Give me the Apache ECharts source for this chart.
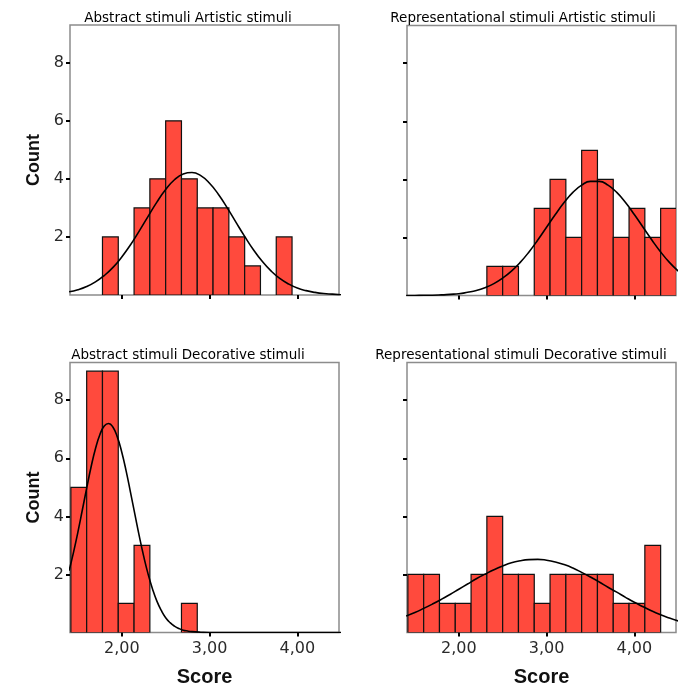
<!DOCTYPE html>
<html>
<head>
<meta charset="utf-8">
<script src="https://cdn.jsdelivr.net/npm/echarts@6/dist/echarts.min.js"></script>
<style>html,body{margin:0;padding:0;background:#fff;}#c{width:696px;height:690px;}</style>
</head>
<body>
<div id="c"></div>
<script>
// ---- data ----
const panelTitles = [
  'Abstract stimuli Artistic stimuli',
  'Representational stimuli Artistic stimuli',
  'Abstract stimuli Decorative stimuli',
  'Representational stimuli Decorative stimuli'
];
const binEdges = [1.42,1.60,1.78,1.96,2.14,2.32,2.50,2.68,2.86,3.04,3.22,3.40,3.58,3.76,3.94,4.12,4.30,4.48];
const countsAbsArt = [0,0,2,0,3,4,6,4,3,3,2,1,0,2,0,0,0];
const countsRepArt = [0,0,0,0,0,1,1,0,3,4,2,5,4,2,3,2,3];
const countsAbsDec = [5,9,9,1,3,0,0,1,0,0,0,0,0,0,0,0,0];
const countsRepDec = [2,2,1,1,2,4,2,2,1,2,2,2,2,1,1,3,0];
const curveX = [1.4,1.5,1.6,1.7,1.8,1.9,2.0,2.1,2.2,2.3,2.4,2.5,2.6,2.7,2.8,2.9,3.0,3.1,3.2,3.3,3.4,3.5,3.6,3.7,3.8,3.9,4.0,4.1,4.2,4.3,4.4,4.5];
const curveAbsArt = [0.11,0.18,0.29,0.45,0.67,0.95,1.31,1.73,2.21,2.71,3.20,3.63,3.97,4.17,4.22,4.11,3.85,3.47,3.01,2.51,2.02,1.56,1.16,0.83,0.57,0.38,0.24,0.15,0.09,0.05,0.03,0.01];
const curveRepArt = [0.00,0.00,0.01,0.01,0.02,0.04,0.06,0.11,0.17,0.27,0.41,0.60,0.84,1.14,1.50,1.91,2.35,2.79,3.20,3.55,3.80,3.93,3.93,3.80,3.55,3.20,2.79,2.35,1.91,1.50,1.14,0.84];
const curveAbsDecX = [1.40,1.45,1.50,1.55,1.60,1.65,1.70,1.75,1.80,1.85,1.90,1.95,2.00,2.05,2.10,2.15,2.20,2.25,2.30,2.35,2.40,2.45,2.50,2.55,2.60,2.65,2.70,2.75,2.80,2.90,3.00,4.50];
const curveAbsDec = [2.13,2.76,3.46,4.21,4.97,5.70,6.33,6.81,7.11,7.20,7.07,6.73,6.21,5.56,4.82,4.06,3.31,2.62,2.01,1.50,1.08,0.76,0.51,0.34,0.22,0.14,0.08,0.05,0.03,0.01,0,0];
const curveRepDec = [0.57,0.69,0.83,0.98,1.14,1.31,1.49,1.67,1.85,2.01,2.16,2.29,2.40,2.47,2.51,2.52,2.49,2.43,2.34,2.22,2.07,1.91,1.74,1.56,1.39,1.21,1.04,0.89,0.74,0.61,0.50,0.40];
const xTickValues = [2, 3, 4];
const xTickLabels = ['2,00', '3,00', '4,00'];
const yTickValues = [2, 4, 6, 8];
const xAxisName = 'Score';
const yAxisName = 'Count';

// ---- layout ----
const panels = [
  {counts: countsAbsArt, cx: curveX,       curve: curveAbsArt, left: 70,  top: 25,    showX: false, showY: true,  titleX: 188, titleY: 18},
  {counts: countsRepArt, cx: curveX,       curve: curveRepArt, left: 407, top: 25.5,  showX: false, showY: false, titleX: 523, titleY: 18},
  {counts: countsAbsDec, cx: curveAbsDecX, curve: curveAbsDec, left: 70,  top: 362.5, showX: true,  showY: true,  titleX: 188, titleY: 355},
  {counts: countsRepDec, cx: curveX,       curve: curveRepDec, left: 407, top: 362.5, showX: true,  showY: false, titleX: 521, titleY: 355}
];

const chart = echarts.init(document.getElementById('c'), null, {renderer: 'canvas'});
const grids = [], xAxes = [], yAxes = [], series = [], graphics = [];
const tickStyle = {color: '#000', width: 2};
panels.forEach((p, i) => {
  grids.push({left: p.left, top: p.top, width: 269, height: 270, show: true,
    borderColor: '#8c8c8c', borderWidth: 1.5, backgroundColor: '#fff', containLabel: false});
  xAxes.push({
    gridIndex: i, type: 'value', min: 1.41, max: 4.475,
    axisLine: {show: false}, splitLine: {show: false},
    axisTick: {show: true, customValues: xTickValues, length: 4, lineStyle: tickStyle},
    axisLabel: {show: p.showX, customValues: xTickValues,
      formatter: v => xTickLabels[xTickValues.indexOf(v)] || '',
      fontFamily: 'DejaVu Sans', fontSize: 16, color: '#2a2a2a', margin: 8},
    name: p.showX ? xAxisName : '', nameLocation: 'middle', nameGap: 35,
    nameTextStyle: {fontFamily: 'Liberation Sans', fontWeight: 'bold', fontSize: 20, color: '#111'}
  });
  yAxes.push({
    gridIndex: i, type: 'value', min: 0, max: 9.3,
    axisLine: {show: false}, splitLine: {show: false},
    axisTick: {show: true, customValues: yTickValues, length: 4, lineStyle: tickStyle},
    axisLabel: {show: p.showY, customValues: yTickValues,
      fontFamily: 'DejaVu Sans', fontSize: 16, color: '#2a2a2a', margin: 6},
    name: p.showY ? yAxisName : '', nameLocation: 'middle', nameGap: 27, nameRotate: 90,
    nameTextStyle: {fontFamily: 'Liberation Sans', fontWeight: 'bold', fontSize: 18, color: '#111'}
  });
  const barData = [];
  p.counts.forEach((c, k) => { if (c > 0) barData.push([binEdges[k], binEdges[k + 1], c]); });
  series.push({
    type: 'custom', xAxisIndex: i, yAxisIndex: i, data: barData, clip: true,
    renderItem: (params, api) => {
      const p0 = api.coord([api.value(0), 0]);
      const p1 = api.coord([api.value(1), api.value(2)]);
      return {type: 'rect',
        shape: {x: p0[0], y: p1[1], width: p1[0] - p0[0], height: p0[1] - p1[1]},
        style: {fill: '#ff4a3d', stroke: '#111', lineWidth: 1.2}};
    }
  });
  series.push({
    type: 'line', xAxisIndex: i, yAxisIndex: i, smooth: true, symbol: 'none', clip: true,
    data: p.cx.map((x, k) => [x, p.curve[k]]),
    lineStyle: {color: '#000', width: 1.6}, z: 5
  });
  graphics.push({type: 'text', x: p.titleX, y: p.titleY,
    style: {text: panelTitles[i], fontFamily: 'DejaVu Sans', fontSize: 13.5, fill: '#000',
      textAlign: 'center', textVerticalAlign: 'middle'}});
});

chart.setOption({
  animation: false,
  backgroundColor: '#fff',
  grid: grids, xAxis: xAxes, yAxis: yAxes, series: series, graphic: graphics
});
</script>
</body>
</html>
